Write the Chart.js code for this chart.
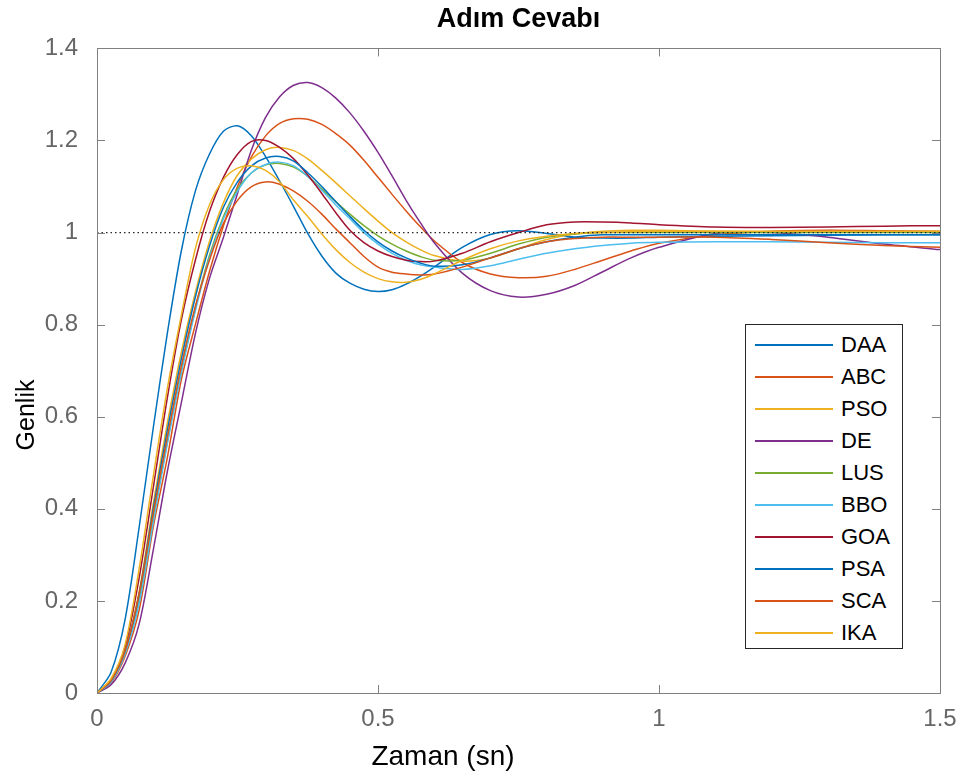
<!DOCTYPE html>
<html>
<head>
<meta charset="utf-8">
<title>Adım Cevabı</title>
<script src="https://cdn.jsdelivr.net/npm/chart.js@4.4.1/dist/chart.umd.min.js"></script>
<style>
  html, body { margin: 0; padding: 0; background: #fff; }
  #wrap { position: relative; width: 963px; height: 783px; }
  #legend {
    position: absolute; left: 745px; top: 324px; width: 158px; height: 325px;
    box-sizing: border-box; border: 1px solid #262626; background: #fff;
    padding-top: 4px;
    font-family: 'Liberation Sans', Arial, sans-serif; font-size: 22px; color: #000;
  }
  .row { height: 32px; display: flex; align-items: center; }
  .swatch { width: 78px; margin-left: 9px; margin-right: 8px; border-top: 2px solid; }
</style>
</head>
<body>
<div id="wrap">
  <canvas id="myChart" width="963" height="783"></canvas>
  <div id="legend"></div>
</div>
<script>
// time samples (sn) shared by all series
let times = [0, 0.025, 0.05, 0.075, 0.1, 0.125, 0.15, 0.175, 0.2, 0.225, 0.25, 0.275, 0.3, 0.325, 0.35, 0.375, 0.4,
    0.425, 0.45, 0.475, 0.5, 0.525, 0.55, 0.575, 0.6,
    0.65, 0.7, 0.75, 0.8, 0.85, 0.9, 0.95, 1.0, 1.1, 1.2, 1.3, 1.4, 1.5];

let daa = [0, 0.045, 0.16, 0.36, 0.575, 0.78, 0.96, 1.09, 1.17, 1.22, 1.232, 1.21, 1.165, 1.112, 1.056, 0.998, 0.949,
    0.912, 0.89, 0.877, 0.872, 0.876, 0.888, 0.905, 0.925,
    0.968, 0.996, 1.004, 0.998, 0.99, 0.988, 0.988, 0.99, 0.992, 0.993, 0.994, 0.995, 0.995];
let abc = [0, 0.022, 0.08, 0.18, 0.36, 0.51, 0.68, 0.8, 0.915, 1.015, 1.1, 1.165, 1.21, 1.237, 1.247, 1.246, 1.235,
    1.215, 1.19, 1.157, 1.12, 1.083, 1.047, 1.013, 0.982,
    0.935, 0.91, 0.902, 0.905, 0.92, 0.94, 0.96, 0.977, 0.995, 1.003, 1.005, 1.004, 1.003];
let pso = [0, 0.027, 0.092, 0.22, 0.41, 0.585, 0.74, 0.87, 0.98, 1.065, 1.125, 1.16, 1.18, 1.185, 1.178, 1.16, 1.135,
    1.108, 1.08, 1.052, 1.025, 1.0, 0.98, 0.963, 0.95,
    0.938, 0.945, 0.965, 0.985, 0.997, 1.003, 1.005, 1.005, 1.003, 1.002, 1.002, 1.002, 1.002];
let de = [0, 0.018, 0.065, 0.15, 0.31, 0.48, 0.63, 0.78, 0.9, 0.99, 1.085, 1.18, 1.25, 1.295, 1.32, 1.326, 1.315,
    1.292, 1.26, 1.22, 1.174, 1.123, 1.07, 1.022, 0.978,
    0.912, 0.874, 0.86, 0.866, 0.885, 0.915, 0.945, 0.968, 0.998, 1.0, 0.99, 0.975, 0.963];
let lus = [0, 0.025, 0.087, 0.2, 0.38, 0.545, 0.7, 0.835, 0.95, 1.035, 1.095, 1.13, 1.147, 1.15, 1.142, 1.122, 1.095,
    1.067, 1.04, 1.015, 0.993, 0.975, 0.96, 0.948, 0.94,
    0.94, 0.955, 0.975, 0.99, 0.997, 1.0, 1.0, 1.0, 1.0, 1.0, 1.0, 1.0, 1.0];
let bbo = [0, 0.024, 0.085, 0.195, 0.37, 0.54, 0.695, 0.83, 0.945, 1.03, 1.09, 1.13, 1.148, 1.153, 1.145, 1.122, 1.092,
    1.06, 1.03, 1.0, 0.975, 0.955, 0.94, 0.93, 0.925,
    0.92, 0.928, 0.942, 0.955, 0.965, 0.972, 0.977, 0.979, 0.98, 0.98, 0.979, 0.978, 0.978];
let goa = [0, 0.028, 0.1, 0.25, 0.445, 0.64, 0.81, 0.94, 1.045, 1.12, 1.17, 1.198, 1.2, 1.185, 1.16, 1.125, 1.085,
    1.043, 1.005, 0.978, 0.96, 0.948, 0.94, 0.937, 0.938,
    0.955, 0.98, 1.0, 1.017, 1.023, 1.023, 1.021, 1.017, 1.012, 1.011, 1.012, 1.014, 1.015];
let psa = [0, 0.027, 0.092, 0.215, 0.4, 0.57, 0.725, 0.86, 0.97, 1.055, 1.11, 1.145, 1.162, 1.165, 1.155, 1.13, 1.1,
    1.067, 1.035, 1.005, 0.98, 0.96, 0.945, 0.934, 0.927,
    0.93, 0.945, 0.965, 0.98, 0.99, 0.995, 0.995, 0.995, 0.995, 0.995, 0.995, 0.995, 0.995];
let sca = [0, 0.027, 0.092, 0.215, 0.39, 0.555, 0.71, 0.84, 0.94, 1.02, 1.07, 1.1, 1.11, 1.105, 1.09, 1.068, 1.04,
    1.008, 0.978, 0.948, 0.925, 0.914, 0.91, 0.908, 0.91,
    0.925, 0.945, 0.965, 0.98, 0.987, 0.99, 0.99, 0.99, 0.99, 0.985, 0.978, 0.972, 0.968];
let ika = [0, 0.031, 0.105, 0.27, 0.47, 0.66, 0.82, 0.965, 1.06, 1.115, 1.14, 1.145, 1.135, 1.11, 1.07, 1.035, 0.997,
    0.963, 0.935, 0.914, 0.9, 0.893, 0.892, 0.898, 0.91,
    0.94, 0.965, 0.982, 0.992, 0.998, 1.0, 1.002, 1.003, 1.003, 1.003, 1.003, 1.003, 1.003];

let seriesNames = ['DAA', 'ABC', 'PSO', 'DE', 'LUS', 'BBO', 'GOA', 'PSA', 'SCA', 'IKA'];
let seriesValues = [daa, abc, pso, de, lus, bbo, goa, psa, sca, ika];

let xTicks = [0, 0.5, 1, 1.5];
let yTicks = [0, 0.2, 0.4, 0.6, 0.8, 1, 1.2, 1.4];
let steadyState = 1;

// matlab default line colours
let colors = ['#0072BD', '#D95319', '#EDB120', '#7E2F8E', '#77AC30', '#4DBEEE', '#A2142F', '#0072BD', '#D95319', '#EDB120'];

Chart.defaults.font.family = "'Liberation Sans', Arial, sans-serif";

function toPoints(values) {
    let pts = [];
    for (let i = 0; i < times.length; i++) {
        pts.push({ x: times[i], y: values[i] });
    }
    return pts;
}

let datasets = [];
for (let i = 0; i < seriesNames.length; i++) {
    datasets.push({
        label: seriesNames[i],
        data: toPoints(seriesValues[i]),
        borderColor: colors[i],
        borderWidth: 1.5,
        pointRadius: 0,
        tension: 0.3,
        order: seriesNames.length - i + 1
    });
}
datasets.push({
    label: 'ref',
    data: [{ x: xTicks[0], y: steadyState }, { x: xTicks[xTicks.length - 1], y: steadyState }],
    borderColor: '#262626',
    borderWidth: 1.2,
    borderDash: [1.5, 3],
    pointRadius: 0,
    order: 0
});

// box round the plot with ticks pointing inward, plus the axis names
let boxPlugin = {
    id: 'matlabBox',
    afterDatasetsDraw(chart) {
        let ctx = chart.ctx;
        let a = chart.chartArea;
        let xs = chart.scales.x;
        let ys = chart.scales.y;
        ctx.save();
        ctx.strokeStyle = '#808080';
        ctx.lineWidth = 1;
        ctx.strokeRect(Math.round(a.left) + 0.5, Math.round(a.top) + 0.5,
            Math.round(a.right - a.left), Math.round(a.bottom - a.top));
        ctx.beginPath();
        xs.ticks.forEach(t => {
            let px = Math.round(xs.getPixelForValue(t.value)) + 0.5;
            ctx.moveTo(px, a.bottom); ctx.lineTo(px, a.bottom - 8);
            ctx.moveTo(px, a.top); ctx.lineTo(px, a.top + 8);
        });
        ys.ticks.forEach(t => {
            let py = Math.round(ys.getPixelForValue(t.value)) + 0.5;
            ctx.moveTo(a.left, py); ctx.lineTo(a.left + 8, py);
            ctx.moveTo(a.right, py); ctx.lineTo(a.right - 8, py);
        });
        ctx.stroke();

        ctx.fillStyle = '#000';
        ctx.textAlign = 'center';
        ctx.textBaseline = 'middle';
        ctx.font = "28px 'Liberation Sans', Arial, sans-serif";
        ctx.fillText('Zaman (sn)', 443, 757);

        ctx.translate(27, 415);
        ctx.rotate(-Math.PI / 2);
        ctx.font = "25px 'Liberation Sans', Arial, sans-serif";
        ctx.fillText('Genlik', 0, 0);
        ctx.restore();
    }
};

let ctx = document.getElementById('myChart').getContext('2d');
new Chart(ctx, {
    type: 'line',
    data: { datasets: datasets },
    options: {
        responsive: false,
        animation: false,
        devicePixelRatio: 1,
        layout: { padding: { left: 0, right: 23, top: 0, bottom: 0 } },
        plugins: {
            legend: { display: false },
            tooltip: { enabled: false },
            title: {
                display: true,
                fullSize: false,
                text: 'Adım Cevabı',
                color: '#000',
                font: { size: 27, weight: 'bold' },
                padding: { top: 3, bottom: 13 }
            }
        },
        scales: {
            x: {
                type: 'linear',
                min: xTicks[0],
                max: xTicks[xTicks.length - 1],
                afterBuildTicks: s => { s.ticks = xTicks.map(v => ({ value: v })); },
                afterFit: s => { s.height = 90; },
                grid: { display: false },
                border: { display: false },
                ticks: { color: '#666', font: { size: 24 }, padding: 4, maxRotation: 0, callback: v => String(v) },
                title: { display: false }
            },
            y: {
                type: 'linear',
                min: yTicks[0],
                max: yTicks[yTicks.length - 1],
                afterBuildTicks: s => { s.ticks = yTicks.map(v => ({ value: v })); },
                afterFit: s => { s.width = 97; },
                grid: { display: false },
                border: { display: false },
                ticks: { color: '#666', font: { size: 24 }, padding: 11, callback: v => String(v) },
                title: { display: false }
            }
        }
    },
    plugins: [boxPlugin]
});

// legend box drawn from the same names and colours
let legendEl = document.getElementById('legend');
for (let i = 0; i < seriesNames.length; i++) {
    let row = document.createElement('div');
    row.className = 'row';
    let sw = document.createElement('span');
    sw.className = 'swatch';
    sw.style.borderColor = colors[i];
    let label = document.createElement('span');
    label.textContent = seriesNames[i];
    row.appendChild(sw);
    row.appendChild(label);
    legendEl.appendChild(row);
}
</script>
</body>
</html>
